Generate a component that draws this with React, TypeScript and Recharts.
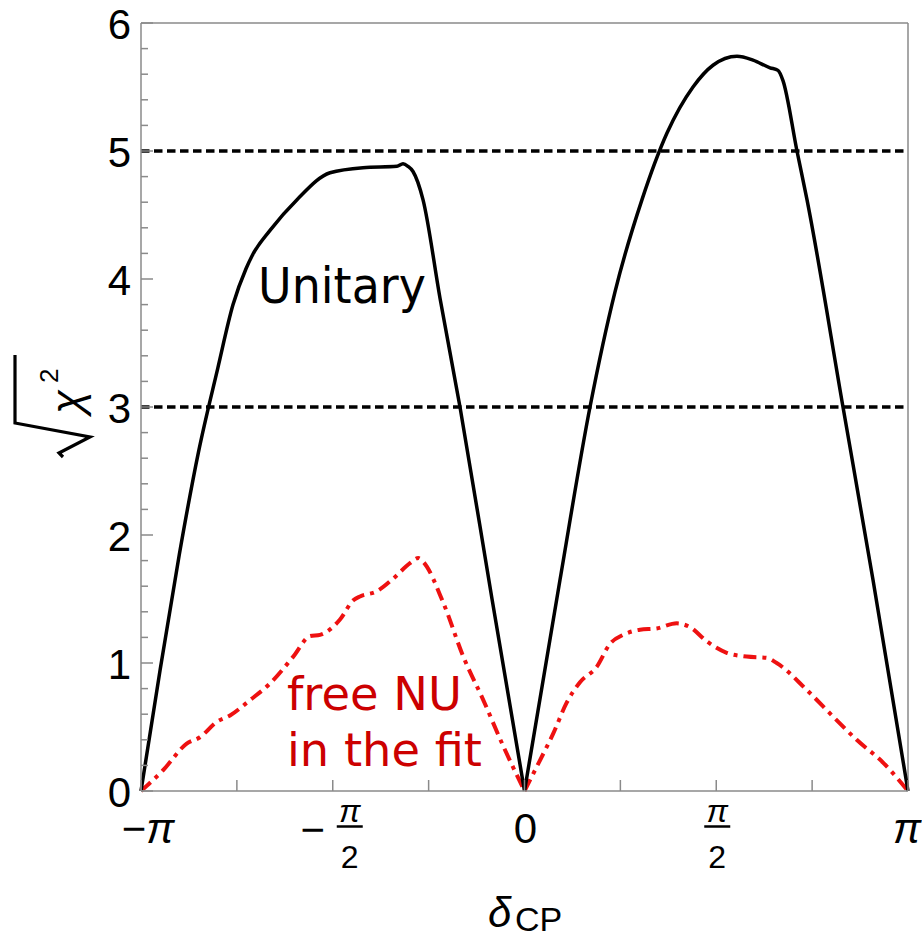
import React from 'react';
import { LineChart, Line, XAxis, YAxis, ReferenceLine, ReferenceDot } from 'recharts';

// x values are delta_CP in units of pi
const unitaryLeftDelta = [-1, -0.95, -0.9, -0.85, -0.8, -0.76, -0.7262, -0.7106, -0.6636, -0.5932, -0.5072, -0.4211, -0.3325, -0.3168, -0.3038, -0.2907, -0.2647, -0.2203, -0.1682, -0.0847, 0];
const unitaryLeftChi = [0, 0.95, 1.85, 2.65, 3.3, 3.8, 4.08, 4.18, 4.38, 4.62, 4.83, 4.87, 4.88, 4.9, 4.88, 4.84, 4.62, 3.85, 3.0, 1.5, 0];

const unitaryRightDelta = [0, 0.0926, 0.1708, 0.236, 0.3064, 0.3716, 0.4394, 0.4915, 0.5541, 0.5958, 0.6402, 0.661, 0.674, 0.7105, 0.7366, 0.8305, 0.9087, 1];
const unitaryRightChi = [0, 1.65, 3.0, 3.9, 4.62, 5.14, 5.5, 5.67, 5.74, 5.71, 5.65, 5.63, 5.55, 5.0, 4.62, 3.0, 1.65, 0];

const freeLeftDelta = [-1, -0.9419, -0.8808, -0.8462, -0.8026, -0.7679, -0.7158, -0.6636, -0.6029, -0.5593, -0.5332, -0.4811, -0.4464, -0.4289, -0.3854, -0.3421, -0.2986, -0.2769, -0.2639, -0.2117, -0.1596, -0.1074, -0.0553, 0];
const freeLeftChi = [0, 0.164, 0.37, 0.42, 0.54, 0.59, 0.71, 0.84, 1.05, 1.21, 1.22, 1.34, 1.49, 1.52, 1.56, 1.66, 1.78, 1.82, 1.79, 1.47, 1.05, 0.71, 0.35, 0];

const freeRightDelta = [0, 0.0404, 0.0751, 0.11, 0.1447, 0.1883, 0.2229, 0.2576, 0.3012, 0.3447, 0.3969, 0.4316, 0.4751, 0.5273, 0.5794, 0.6316, 0.6576, 0.7359, 0.8052, 0.8662, 0.9356, 1];
const freeRightChi = [0, 0.24, 0.45, 0.69, 0.85, 0.97, 1.15, 1.22, 1.26, 1.27, 1.31, 1.28, 1.17, 1.08, 1.05, 1.04, 1.0, 0.79, 0.58, 0.4, 0.22, 0];

const xTicks = [-1, -0.75, -0.5, -0.25, 0, 0.25, 0.5, 0.75, 1];
const yTicks = [0, 0.2, 0.4, 0.6, 0.8, 1, 1.2, 1.4, 1.6, 1.8, 2, 2.2, 2.4, 2.6, 2.8, 3, 3.2, 3.4, 3.6, 3.8, 4, 4.2, 4.4, 4.6, 4.8, 5, 5.2, 5.4, 5.6, 5.8, 6];
const yLabels = ['0', '1', '2', '3', '4', '5', '6'];
const sigmaLevels = [3, 5];

const toPts = (xs: number[], ys: number[]) => xs.map((x, i) => ({ x, y: ys[i] }));
const unitaryLeft = toPts(unitaryLeftDelta, unitaryLeftChi);
const unitaryRight = toPts(unitaryRightDelta, unitaryRightChi);
const freeLeft = toPts(freeLeftDelta, freeLeftChi);
const freeRight = toPts(freeRightDelta, freeRightChi);

const AX = '#8a8a8a';
const FONT = '"Liberation Sans", Arial, sans-serif';
const TFONT = '"DejaVu Sans", Verdana, sans-serif';

function XTick(props: any) {
  const { x, y, payload } = props;
  const v = payload.value;
  const parts: any[] = [
    <line key="t" x1={x} y1={y} x2={x} y2={y - 11} stroke={AX} strokeWidth={1.5} />,
  ];
  if (v === -1) {
    parts.push(
      <text key="l" x={x + 7} y={y + 52} textAnchor="middle" fontFamily={FONT} fontSize={42} fill="#000">
        −<tspan fontStyle="italic">π</tspan>
      </text>
    );
  } else if (v === 1) {
    parts.push(
      <text key="l" x={x - 1} y={y + 52} textAnchor="middle" fontFamily={FONT} fontSize={42} fontStyle="italic" fill="#000">π</text>
    );
  } else if (v === 0) {
    parts.push(
      <text key="l" x={x + 1} y={y + 52} textAnchor="middle" fontFamily={FONT} fontSize={42} fill="#000">0</text>
    );
  } else if (v === 0.5 || v === -0.5) {
    const fx = v < 0 ? x + 17 : x + 1;
    if (v < 0) {
      parts.push(
        <text key="m" x={x - 20} y={y + 53} textAnchor="middle" fontFamily={FONT} fontSize={42} fill="#000">−</text>
      );
    }
    parts.push(
      <text key="n" x={fx} y={y + 31} textAnchor="middle" fontFamily={FONT} fontSize={32} fontStyle="italic" fill="#000">π</text>,
      <line key="b" x1={fx - 13} y1={y + 35.5} x2={fx + 13} y2={y + 35.5} stroke="#000" strokeWidth={2.5} />,
      <text key="d" x={fx} y={y + 77} textAnchor="middle" fontFamily={FONT} fontSize={32} fill="#000">2</text>
    );
  }
  return <g>{parts}</g>;
}

function YTick(props: any) {
  const { x, y, payload } = props;
  const v = payload.value;
  const idx = yLabels.indexOf(String(v));
  const major = idx >= 0;
  return (
    <g>
      <line x1={x} y1={y} x2={x + (major ? 12 : 7)} y2={y} stroke={AX} strokeWidth={1.5} />
      {major && (
        <text x={x - 10} y={y + 16} textAnchor="end" fontFamily={FONT} fontSize={42} fill="#000">
          {yLabels[idx]}
        </text>
      )}
    </g>
  );
}

const textLabel = (lines: string[], color: string, size: number, lh: number, len?: number[]) => (p: any) => {
  const vb = p.viewBox || {};
  const x0 = vb.x + (vb.width || 0) / 2;
  const y0 = vb.y + (vb.height || 0) / 2;
  return (
    <g>
      {lines.map((s, i) => (
        <text
          key={i}
          x={x0}
          y={y0 + i * lh}
          fontFamily={TFONT}
          fontSize={size}
          fill={color}
          textLength={len ? len[i] : undefined}
          lengthAdjust={len ? 'spacingAndGlyphs' : undefined}
        >
          {s}
        </text>
      ))}
    </g>
  );
};

export default function App() {
  return (
    <div style={{ position: 'absolute', left: 0, top: 0, width: 922, height: 938, background: '#fff' }}>
      <LineChart width={922} height={938} data={unitaryLeft} margin={{ top: 23, right: 14, bottom: 87, left: 0 }}>
        <XAxis
          dataKey="x"
          type="number"
          domain={[-1, 1]}
          ticks={xTicks}
          interval={0}
          tick={<XTick />}
          tickLine={false}
          tickSize={0}
          tickMargin={0}
          height={60}
          axisLine={{ stroke: AX, strokeWidth: 1.5 }}
        />
        <YAxis
          type="number"
          domain={[0, 6]}
          ticks={yTicks}
          interval={0}
          tick={<YTick />}
          tickLine={false}
          tickSize={0}
          tickMargin={0}
          width={141}
          axisLine={{ stroke: AX, strokeWidth: 1.5 }}
        />
        <ReferenceLine y={6} stroke={AX} strokeWidth={1.5} />
        <ReferenceLine x={1} stroke={AX} strokeWidth={1.5} />
        {sigmaLevels.map((s) => (
          <ReferenceLine key={s} y={s} stroke="#000" strokeWidth={3.5} strokeDasharray="8.5 4.5" />
        ))}
        <Line data={freeLeft} dataKey="y" type="monotone" stroke="#ee1111" strokeWidth={4} strokeDasharray="13 6 4 6" dot={false} isAnimationActive={false} />
        <Line data={freeRight} dataKey="y" type="monotone" stroke="#ee1111" strokeWidth={4} strokeDasharray="13 6 4 6" dot={false} isAnimationActive={false} />
        <Line data={unitaryLeft} dataKey="y" type="monotone" stroke="#000" strokeWidth={3.5} dot={false} isAnimationActive={false} />
        <Line data={unitaryRight} dataKey="y" type="monotone" stroke="#000" strokeWidth={3.5} dot={false} isAnimationActive={false} />
        <ReferenceDot x={-0.6949} y={3.8125} r={0} fill="none" stroke="none" label={textLabel(['Unitary'], '#000', 50, 0, [168])} />
        <ReferenceDot x={-0.6193} y={0.633} r={0} fill="none" stroke="none" label={textLabel(['free NU', 'in the fit'], '#cc0000', 46, 56, [175, 195])} />
      </LineChart>
      <svg width={922} height={938} style={{ position: 'absolute', left: 0, top: 0, pointerEvents: 'none' }}>
        <g transform="translate(52,407) rotate(-90)">
          <polyline points="-50,11 -46,7 -30,38 -16,-37 52,-37" fill="none" stroke="#000" strokeWidth={3.2} strokeLinejoin="miter" />
          <text x={-7} y={30} fontFamily={FONT} fontStyle="italic" fontSize={44} fill="#000">χ</text>
          <text x={24} y={6} fontFamily={FONT} fontSize={26} fill="#000">2</text>
        </g>
        <text x={488} y={927} fontFamily={FONT} fontStyle="italic" fontSize={42} fill="#000">δ</text>
        <text x={515} y={931} fontFamily={FONT} fontSize={34} fill="#000">CP</text>
      </svg>
    </div>
  );
}
